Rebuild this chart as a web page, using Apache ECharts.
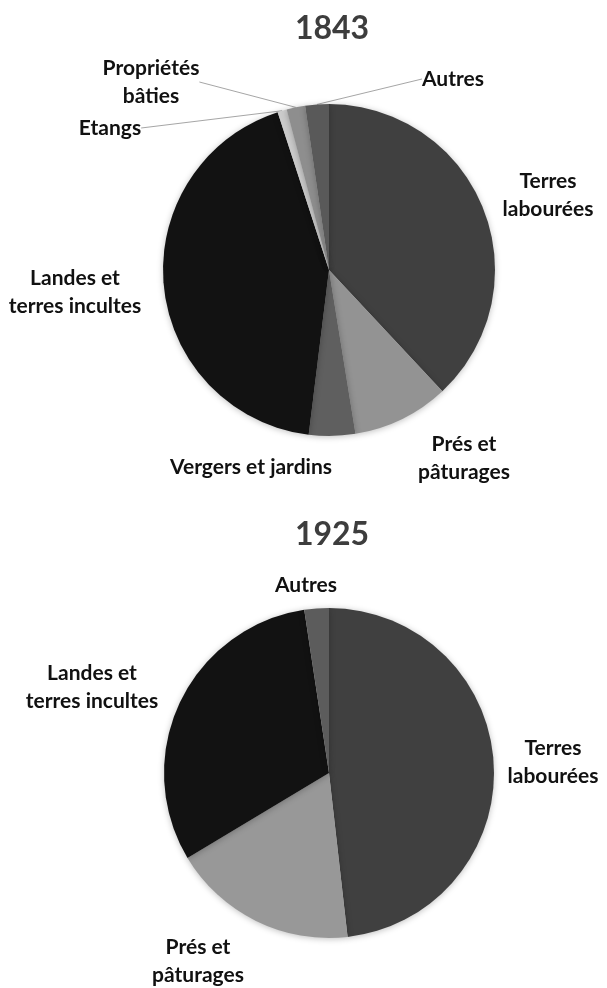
<!DOCTYPE html>
<html>
<head>
<meta charset="utf-8">
<script src="https://cdn.jsdelivr.net/npm/echarts@6/dist/echarts.min.js"></script>
<style>
html,body{margin:0;padding:0;background:#fff;}
#c{width:607px;height:988px;}
</style>
</head>
<body>
<div id="c"></div>
<script>
// ---- data ----
const titles = ['1843', '1925'];
const categories1843 = ['Terres\nlabourées', 'Prés et\npâturages', 'Vergers et jardins', 'Landes et\nterres incultes', 'Etangs', 'Propriétés\nbâties', 'Autres'];
const values1843 = [38.0, 9.4, 4.5, 43.0, 0.9, 1.8, 2.3];
const categories1925 = ['Terres\nlabourées', 'Prés et\npâturages', 'Landes et\nterres incultes', 'Autres'];
const values1925 = [48.2, 18.2, 31.2, 2.4];

// ---- styling / layout ----
const colors1843 = ['#404040', '#939393', '#5f5f5f', '#121212', '#cbcbcb', '#8e8e8e', '#595959'];
const colors1925 = ['#404040', '#989898', '#121212', '#5c5c5c'];
const leader1843 = [false, false, false, false, true, true, true];
const labelPos = [
  [[548, 195], [464, 458], [251, 467], [75, 292], [110, 128], [151, 82], [453, 79]],
  [[553, 762], [198, 961], [92, 687], [306, 585]]
];

function buildData(cats, vals, cols, leaders) {
  return cats.map((c, i) => ({
    name: c,
    value: vals[i],
    itemStyle: { color: cols[i] },
    labelLine: { show: leaders ? leaders[i] : false }
  }));
}

const labelStyle = {
  show: true,
  position: 'outside',
  formatter: '{b}',
  fontFamily: 'Lato',
  fontWeight: 'bold',
  fontSize: 21,
  lineHeight: 28,
  color: '#111',
  align: 'center'
};

const chart = echarts.init(document.getElementById('c'), null, { renderer: 'canvas' });
chart.setOption({
  backgroundColor: '#fff',
  animation: false,
  title: [
    { text: titles[0], left: 327, top: 8, textAlign: 'center',
      textStyle: { fontFamily: 'Lato', fontWeight: 'bold', fontSize: 32, color: '#3d3d3d' } },
    { text: titles[1], left: 327, top: 514, textAlign: 'center',
      textStyle: { fontFamily: 'Lato', fontWeight: 'bold', fontSize: 32, color: '#3d3d3d' } }
  ],
  series: [
    {
      type: 'pie',
      center: [329, 270],
      radius: [0, 166],
      startAngle: 90,
      clockwise: true,
      avoidLabelOverlap: false,
      data: buildData(categories1843, values1843, colors1843, leader1843),
      itemStyle: { borderWidth: 0, shadowBlur: 6, shadowColor: 'rgba(0,0,0,0.25)', shadowOffsetY: 1 },
      label: labelStyle,
      labelLine: { length: 10, length2: 0, smooth: false, lineStyle: { color: '#a6a6a6', width: 1 } },
      labelLayout: function (p) {
        const pos = labelPos[0][p.dataIndex];
        return { x: pos[0], y: pos[1], align: 'center', verticalAlign: 'middle' };
      },
      emphasis: { disabled: true }
    },
    {
      type: 'pie',
      center: [329, 773],
      radius: [0, 165],
      startAngle: 90,
      clockwise: true,
      avoidLabelOverlap: false,
      data: buildData(categories1925, values1925, colors1925, null),
      itemStyle: { borderWidth: 0, shadowBlur: 6, shadowColor: 'rgba(0,0,0,0.25)', shadowOffsetY: 1 },
      label: labelStyle,
      labelLine: { show: false },
      labelLayout: function (p) {
        const pos = labelPos[1][p.dataIndex];
        return { x: pos[0], y: pos[1], align: 'center', verticalAlign: 'middle' };
      },
      emphasis: { disabled: true }
    }
  ]
});
</script>
</body>
</html>
